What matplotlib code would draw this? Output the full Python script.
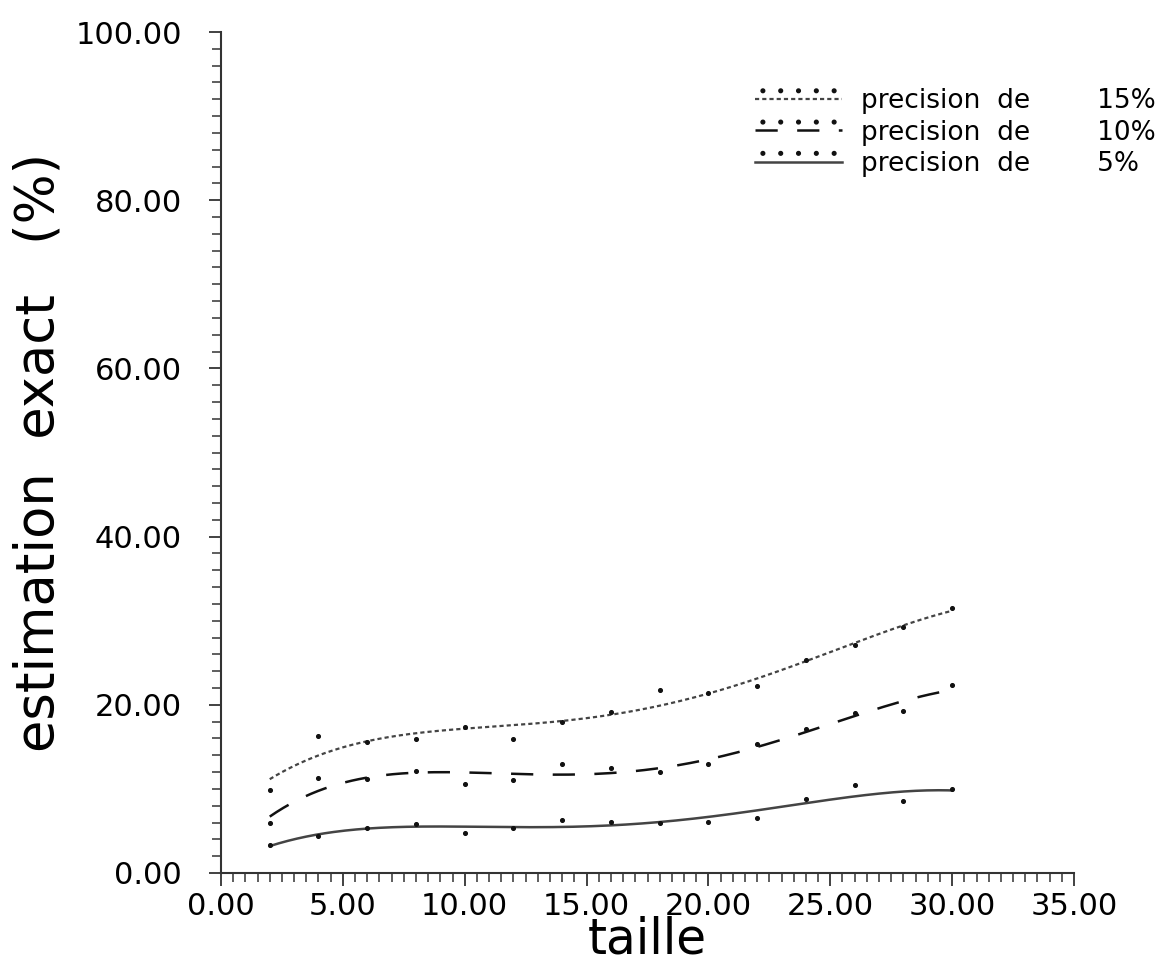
import numpy as np
import matplotlib
matplotlib.use("Agg")
import matplotlib.pyplot as plt
from matplotlib.ticker import MultipleLocator, FormatStrFormatter
from matplotlib.legend_handler import HandlerTuple

plt.rcParams['font.family'] = ['DejaVu Sans']
plt.rcParams['lines.scale_dashes'] = False

taille = [2, 4, 6, 8, 10, 12, 14, 16, 18, 20, 22, 24, 26, 28, 30]
prec15 = [9.9, 16.3, 15.6, 15.9, 17.4, 15.9, 18.0, 19.1, 21.8, 21.4, 22.2, 25.3, 27.1, 29.2, 31.5]
prec10 = [5.9, 11.3, 11.2, 12.1, 10.6, 11.1, 13.0, 12.5, 12.0, 13.0, 15.3, 17.1, 19.0, 19.3, 22.3]
prec05 = [3.3, 4.4, 5.4, 5.8, 4.7, 5.4, 6.3, 6.1, 5.9, 6.1, 6.5, 8.8, 10.5, 8.6, 10.0]
labels = ["precision  de        15%", "precision  de        10%", "precision  de        5%"]

fig = plt.figure(figsize=(11.65, 9.69), dpi=100)
ax = fig.add_axes([221/1165, 1-873/969, (1074-221)/1165, (873-32)/969])

x = np.array(taille, dtype=float)
xs = np.linspace(x.min(), x.max(), 300)

styles = [
    dict(color='#444444', lw=1.6, ls=(0, (3.0, 2.2))),
    dict(color='#111111', lw=1.8, ls=(0, (16, 14))),
    dict(color='#444444', lw=1.8, ls='-'),
]
handles = []
for ys, st in zip([prec15, prec10, prec05], styles):
    y = np.array(ys)
    coef = np.polyfit(x, y, 4)
    ln, = ax.plot(xs, np.polyval(coef, xs), **st)
    sc = ax.scatter(x, y, s=7, color='#111111', zorder=3)
    handles.append((sc, ln))

ax.set_xlim(0, 35)
ax.set_ylim(0, 100)
ax.xaxis.set_major_locator(MultipleLocator(5))
ax.xaxis.set_minor_locator(MultipleLocator(0.5))
ax.yaxis.set_major_locator(MultipleLocator(20))
ax.yaxis.set_minor_locator(MultipleLocator(2))
ax.xaxis.set_major_formatter(FormatStrFormatter('%.2f'))
ax.yaxis.set_major_formatter(FormatStrFormatter('%.2f'))
for s in ['top', 'right']:
    ax.spines[s].set_visible(False)
for s in ['left', 'bottom']:
    ax.spines[s].set_color('#333333')
    ax.spines[s].set_linewidth(1.5)
ax.tick_params(which='major', direction='out', length=9, width=1.3, color='#333333', labelsize=22)
ax.tick_params(which='minor', direction='out', length=6.5, width=1.1, color='#333333')
ax.tick_params(axis='x', which='major', pad=5)
ax.tick_params(axis='y', which='major', pad=19)

ax.set_xlabel('taille', fontsize=35, labelpad=-4)
ax.set_ylabel('estimation  exact   (%)', fontsize=38, labelpad=8)

leg = ax.legend(handles, labels, handler_map={tuple: HandlerTuple(ndivide=1)},
                loc='upper left', bbox_to_anchor=(0.626, 0.933), frameon=False,
                scatterpoints=5, scatteryoffsets=[0.95], fontsize=19,
                handlelength=3.3, handletextpad=0.7, labelspacing=0.2,
                borderpad=0, borderaxespad=0)

fig.savefig('out.png', dpi=100)
